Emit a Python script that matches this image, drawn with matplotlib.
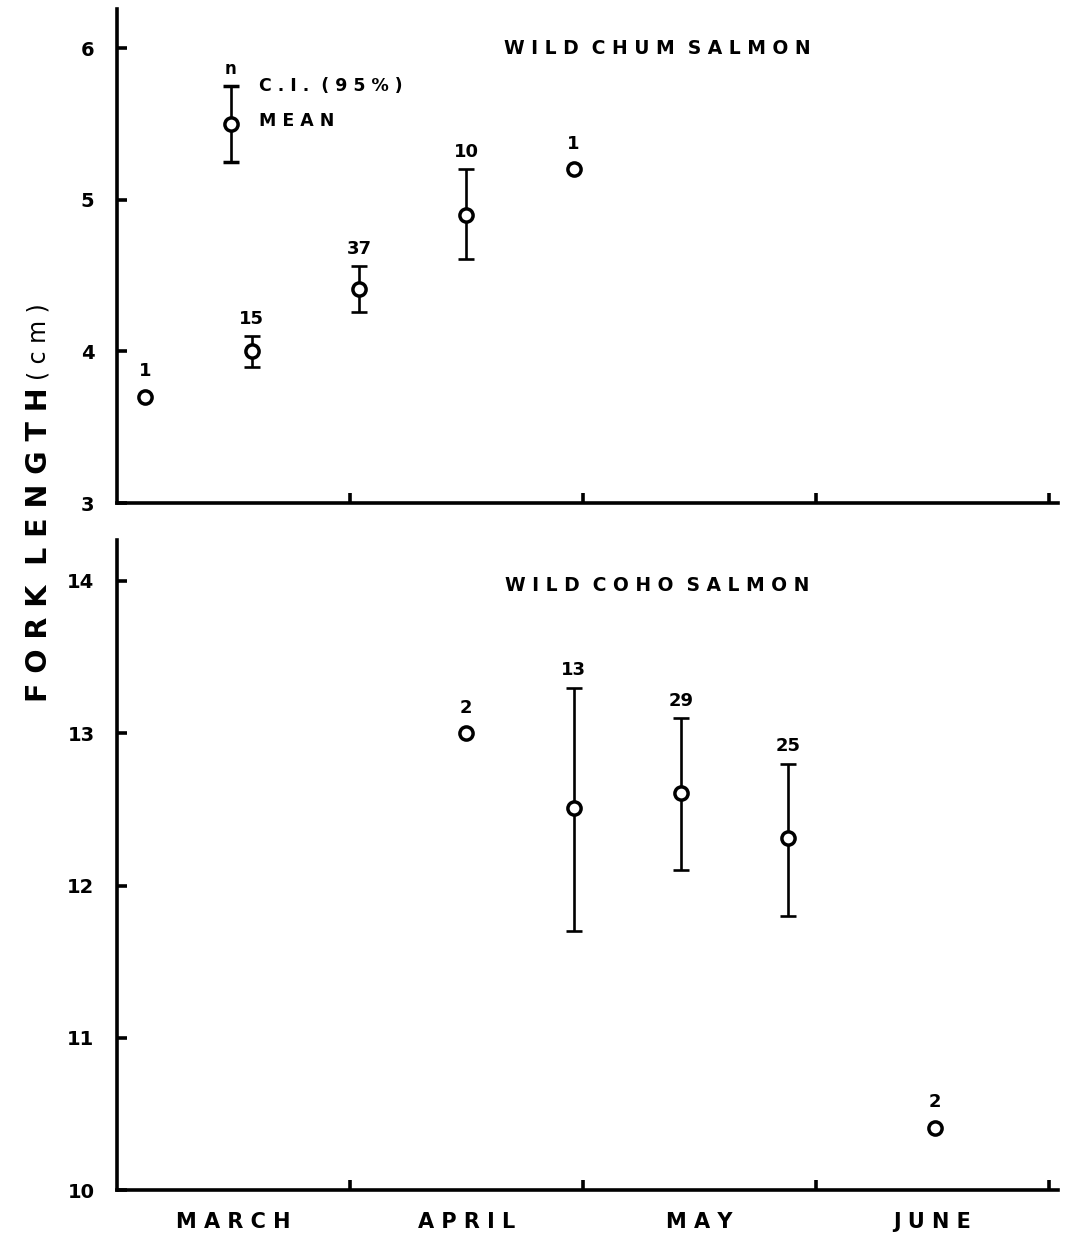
import numpy as np
import matplotlib
matplotlib.use("Agg")
import matplotlib.pyplot as plt

# x is measured in months from the start of March (0 = Mar 1, 1 = Apr 1, ...)
months = ["MARCH", "APRIL", "MAY", "JUNE"]
month_mid = [0.5, 1.5, 2.5, 3.5]
month_edge = [1, 2, 3, 4]

chum_x = [0.12, 0.58, 1.04, 1.50, 1.96]
chum_mean = [3.70, 4.00, 4.41, 4.90, 5.20]
chum_lo = [np.nan, 3.90, 4.26, 4.61, np.nan]
chum_hi = [np.nan, 4.10, 4.56, 5.20, np.nan]
chum_n = [1, 15, 37, 10, 1]

coho_x = [1.50, 1.96, 2.42, 2.88, 3.51]
coho_mean = [13.00, 12.51, 12.61, 12.31, 10.41]
coho_lo = [np.nan, 11.70, 12.10, 11.80, np.nan]
coho_hi = [np.nan, 13.30, 13.10, 12.80, np.nan]
coho_n = [2, 13, 29, 25, 2]

# key drawn inside the top panel
key_x = 0.49
key_mean = 5.5
key_lo = 5.25
key_hi = 5.75

FONT = "DejaVu Sans"


def spaced(s):
    return "  ".join(" ".join(w) for w in s.split(" "))


def draw_points(ax, x, mean, lo, hi, n):
    x = np.array(x)
    mean = np.array(mean)
    lo = np.array(lo)
    hi = np.array(hi)
    has_ci = ~np.isnan(lo)
    err = np.vstack([mean - lo, hi - mean])
    ax.errorbar(x[has_ci], mean[has_ci], yerr=err[:, has_ci], fmt="none",
                ecolor="black", elinewidth=1.9, capsize=5.5, capthick=1.9, zorder=2)
    ax.plot(x, mean, "o", ms=9.5, mfc="white", mec="black", mew=2.5, zorder=3)
    for xi, mi, hi_i, ni in zip(x, mean, hi, n):
        top = mi if np.isnan(hi_i) else hi_i
        off = 12 if np.isnan(hi_i) else 6
        ax.annotate(str(ni), (xi, top), xytext=(0, off), textcoords="offset points",
                    ha="center", va="bottom", fontsize=13, fontweight="bold",
                    family=FONT)


def style_axis(ax, ylim, yticks):
    ax.set_xlim(0, 4.04)
    ax.set_ylim(*ylim)
    for s in ["top", "right"]:
        ax.spines[s].set_visible(False)
    for s in ["left", "bottom"]:
        ax.spines[s].set_linewidth(2.6)
    ax.set_yticks(yticks)
    ax.set_yticklabels([str(t) for t in yticks], fontsize=14, fontweight="bold",
                       family=FONT)
    ax.set_xticks(month_edge)
    ax.set_xticklabels([])
    ax.tick_params(axis="both", direction="in", length=7, width=2.6, pad=14)
    ax.tick_params(axis="y", pad=16)


fig = plt.figure(figsize=(10.81, 12.36), dpi=100)
ax1 = fig.add_axes([0.108, 0.593, 0.871, 0.400])
ax2 = fig.add_axes([0.108, 0.0372, 0.871, 0.526])

style_axis(ax1, (3, 6.26), [3, 4, 5, 6])
style_axis(ax2, (10, 14.27), [10, 11, 12, 13, 14])

draw_points(ax1, chum_x, chum_mean, chum_lo, chum_hi, chum_n)
draw_points(ax2, coho_x, coho_mean, coho_lo, coho_hi, coho_n)

# key
ax1.errorbar([key_x], [key_mean], yerr=[[key_mean - key_lo], [key_hi - key_mean]],
             fmt="o", ms=9.5, mfc="white", mec="black", mew=2.5, ecolor="black",
             elinewidth=1.9, capsize=5.5, capthick=1.9)
ax1.annotate("n", (key_x, key_hi), xytext=(0, 6), textcoords="offset points",
             ha="center", va="bottom", fontsize=12, fontweight="bold", family=FONT)
ax1.annotate("C . I .  ( 9 5 % )", (key_x, key_hi), xytext=(20, 0),
             textcoords="offset points", ha="left", va="center", fontsize=12.5,
             fontweight="bold", family=FONT)
ax1.annotate(spaced("MEAN"), (key_x, key_mean), xytext=(20, 2),
             textcoords="offset points", ha="left", va="center", fontsize=12.5,
             fontweight="bold", family=FONT)

ax1.text(2.32, 6.0, spaced("WILD CHUM SALMON"), ha="center", va="center",
         fontsize=13.5, fontweight="bold", family=FONT)
ax2.text(2.32, 13.97, spaced("WILD COHO SALMON"), ha="center", va="center",
         fontsize=13.5, fontweight="bold", family=FONT)

for m, xm in zip(months, month_mid):
    ax2.text(xm, -0.049, spaced(m), transform=ax2.get_xaxis_transform(),
             ha="center", va="center", fontsize=15, fontweight="bold", family=FONT)

fig.text(0.036, 0.559, "F O R K  L E N G T H", rotation=90, ha="center",
         va="center", fontsize=20.5, fontweight="bold", family=FONT)
fig.text(0.036, 0.724, "( c m )", rotation=90, ha="center", va="center",
         fontsize=17, family=FONT)

fig.savefig("out.png", dpi=100)
